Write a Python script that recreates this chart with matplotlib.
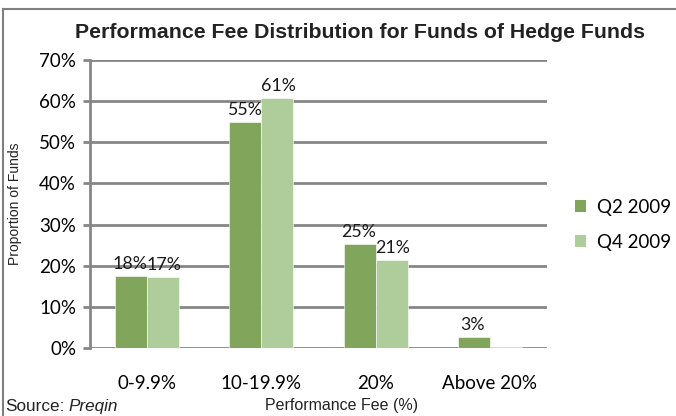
import matplotlib
matplotlib.use("Agg")
import matplotlib.pyplot as plt
from matplotlib.lines import Line2D
from matplotlib.patches import Patch
import numpy as np

categories = ["0-9.9%", "10-19.9%", "20%", "Above 20%"]
q2_2009 = [17.6, 55.0, 25.3, 2.6]
q4_2009 = [17.2, 60.8, 21.5, 0.4]
q2_labels = ["18%", "55%", "25%", "3%"]
q4_labels = ["17%", "61%", "21%", ""]
series_names = ["Q2 2009", "Q4 2009"]
yticks = [0, 10, 20, 30, 40, 50, 60, 70]

c_q2 = "#81A55B"
c_q4 = "#AFCC9B"
grid_c = "#868686"
lab_font = "Lato"
fs = 13.5
fs_lab = 12.8

fig = plt.figure(figsize=(6.76, 4.16), dpi=100)
ax = fig.add_axes([0.133, 0.163, 0.676, 0.693])

x = np.arange(len(categories))
w = 0.28
b1 = ax.bar(x - w / 2, q2_2009, w, color=c_q2, edgecolor="white", linewidth=0.4, zorder=3)
b2 = ax.bar(x + w / 2, q4_2009, w, color=c_q4, edgecolor="white", linewidth=0.4, zorder=3)

for rect, lab in zip(b1, q2_labels):
    if lab:
        ax.text(rect.get_x() + rect.get_width() / 2 - 0.01, rect.get_height() + 1.0, lab,
                ha="center", va="bottom", fontsize=fs_lab, family=lab_font, color="#1a1a1a", zorder=4)
for rect, lab in zip(b2, q4_labels):
    if lab:
        ax.text(rect.get_x() + rect.get_width() / 2 + 0.01, rect.get_height() + 1.0, lab,
                ha="center", va="bottom", fontsize=fs_lab, family=lab_font, color="#1a1a1a", zorder=4)

ax.set_xlim(-0.5, 3.5)
ax.set_ylim(0, 70)
ax.set_yticks(yticks)
ax.set_yticklabels([f"{v}%" for v in yticks], fontsize=fs, family=lab_font)
ax.set_xticks(x)
ax.set_xticklabels(categories, fontsize=fs, family=lab_font)
ax.tick_params(axis="x", length=0, pad=19)
ax.tick_params(axis="y", length=5, width=2, color=grid_c, pad=5)

for v in yticks:
    ax.axhline(v, color=grid_c, linewidth=2, zorder=1)
for s in ["top", "right", "bottom"]:
    ax.spines[s].set_visible(False)
ax.spines["left"].set_color(grid_c)
ax.spines["left"].set_linewidth(2)

fig.text(0.532, 0.922, "Performance Fee Distribution for Funds of Hedge Funds",
         ha="center", va="center", fontsize=15.3, fontweight="bold",
         family="Liberation Sans", color="#222222")
fig.text(0.022, 0.51, "Proportion of Funds", rotation=90, ha="center", va="center",
         fontsize=10, family="Liberation Sans", color="#222222")
fig.text(0.505, 0.026, "Performance Fee (%)", ha="center", va="center",
         fontsize=11.5, family="Liberation Sans", color="#222222")
src = fig.text(0.008, 0.022, "Source:", ha="left", va="center",
               fontsize=12.3, family="Liberation Sans", color="#222222")
fig.canvas.draw()
bb = src.get_window_extent(fig.canvas.get_renderer())
fig.text(bb.x1 / fig.bbox.width + 0.006, 0.022, "Preqin", ha="left", va="center", style="italic",
         fontsize=12.3, family="Liberation Sans", color="#222222")

handles = [Patch(facecolor=c_q2), Patch(facecolor=c_q4)]
leg = fig.legend(handles, series_names, loc="center left", bbox_to_anchor=(0.825, 0.46),
                 frameon=False, prop={"family": lab_font, "size": fs},
                 handlelength=0.6, handleheight=0.6, labelspacing=0.95, handletextpad=0.6)

# outer frame (top and left edges visible)
fig.add_artist(Line2D([0.0045, 1.0], [0.978, 0.978], color="#7f7f7f", linewidth=1.5))
fig.add_artist(Line2D([0.0045, 0.0045], [0.0, 0.978], color="#7f7f7f", linewidth=1.5))

fig.savefig("out.png", dpi=100)
